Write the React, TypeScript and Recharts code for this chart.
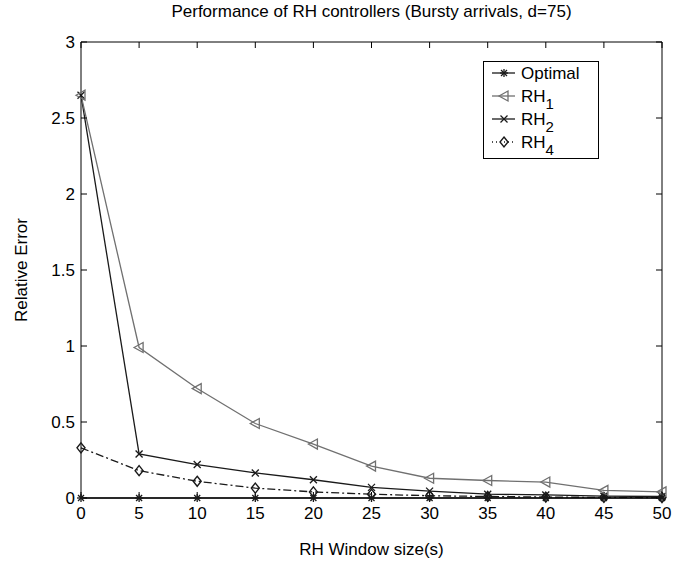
import React from "react";
import { LineChart, Line, XAxis, YAxis, Legend } from "recharts";

// RH window size (s)
const windowSizes = [0, 5, 10, 15, 20, 25, 30, 35, 40, 45, 50];

const optimal = [0, 0, 0, 0, 0, 0, 0, 0, 0, 0, 0];
const rh1 = [2.65, 0.99, 0.72, 0.49, 0.355, 0.21, 0.13, 0.115, 0.105, 0.05, 0.04];
const rh2 = [2.65, 0.29, 0.22, 0.165, 0.12, 0.07, 0.045, 0.025, 0.02, 0.012, 0.01];
const rh4 = [0.33, 0.18, 0.11, 0.065, 0.04, 0.025, 0.015, 0.01, 0.006, 0.004, 0.003];

const xTicks = [0, 5, 10, 15, 20, 25, 30, 35, 40, 45, 50];
const yTicks = [0, 0.5, 1, 1.5, 2, 2.5, 3];

const data = windowSizes.map((x, i) => ({
  x,
  optimal: optimal[i],
  rh1: rh1[i],
  rh2: rh2[i],
  rh4: rh4[i],
}));

const FONT = "'Liberation Sans', Arial, sans-serif";
const GRAY = "#707070";
const DARK = "#1a1a1a";

// marker shapes (MATLAB style, hollow)
const Star = ({ cx, cy, color = DARK }: any) => (
  <g stroke={color} strokeWidth={1.3}>
    <line x1={cx - 4} y1={cy} x2={cx + 4} y2={cy} />
    <line x1={cx} y1={cy - 4} x2={cx} y2={cy + 4} />
    <line x1={cx - 3} y1={cy - 3} x2={cx + 3} y2={cy + 3} />
    <line x1={cx - 3} y1={cy + 3} x2={cx + 3} y2={cy - 3} />
  </g>
);
const TriLeft = ({ cx, cy, color = GRAY }: any) => (
  <polygon
    points={`${cx - 5},${cy} ${cx + 4},${cy - 5} ${cx + 4},${cy + 5}`}
    fill="none"
    stroke={color}
    strokeWidth={1.3}
  />
);
const Cross = ({ cx, cy, color = DARK }: any) => (
  <g stroke={color} strokeWidth={1.3}>
    <line x1={cx - 3.5} y1={cy - 3.5} x2={cx + 3.5} y2={cy + 3.5} />
    <line x1={cx - 3.5} y1={cy + 3.5} x2={cx + 3.5} y2={cy - 3.5} />
  </g>
);
const Diamond = ({ cx, cy, color = DARK }: any) => (
  <polygon
    points={`${cx},${cy - 5} ${cx + 4},${cy} ${cx},${cy + 5} ${cx - 4},${cy}`}
    fill="none"
    stroke={color}
    strokeWidth={1.4}
  />
);

const legendItems = [
  { name: "Optimal", sub: "", color: DARK, dash: undefined, Marker: Star },
  { name: "RH", sub: "1", color: GRAY, dash: undefined, Marker: TriLeft },
  { name: "RH", sub: "2", color: DARK, dash: undefined, Marker: Cross },
  { name: "RH", sub: "4", color: DARK, dash: "1 3", Marker: Diamond },
];

const renderLegend = () => (
  <svg width={116} height={98} style={{ display: "block" }}>
    <rect x={0.5} y={0.5} width={115} height={97} fill="#fff" stroke="#000" />
    {legendItems.map((it, i) => {
      const y = 12 + i * 23;
      return (
        <g key={i}>
          <line x1={9} y1={y} x2={32} y2={y} stroke={it.color} strokeWidth={1.3} strokeDasharray={it.dash} />
          <it.Marker cx={21} cy={y} color={it.color} />
          <text x={38} y={y + 6} fontSize={17} fontFamily={FONT} fill="#000">
            {it.name}
            {it.sub && (
              <tspan fontSize={15} dy={7}>
                {it.sub}
              </tspan>
            )}
          </text>
        </g>
      );
    })}
  </svg>
);

const tickStyle = { fill: "#000", fontSize: 17, fontFamily: FONT };

export default function App() {
  return (
    <div style={{ position: "absolute", left: 0, top: 0, width: 685, height: 563, background: "#fff", fontFamily: FONT }}>
      <div style={{ position: "absolute", left: 0, width: 743, top: 2, textAlign: "center", fontSize: 17 }}>
        Performance of RH controllers (Bursty arrivals, d=75)
      </div>
      <div style={{ position: "absolute", left: 0, width: 743, top: 540, textAlign: "center", fontSize: 17 }}>
        RH Window size(s)
      </div>
      <div
        style={{
          position: "absolute",
          left: 22,
          top: 270,
          transform: "translate(-50%, -50%) rotate(-90deg)",
          whiteSpace: "nowrap",
          fontSize: 17,
        }}
      >
        Relative Error
      </div>
      <LineChart width={685} height={563} data={data} margin={{ top: 41, right: 22, left: 21, bottom: 25 }}>
        <XAxis
          dataKey="x"
          type="number"
          domain={[0, 50]}
          ticks={xTicks}
          height={40}
          tickSize={-6}
          tickMargin={15}
          tick={tickStyle}
          axisLine={{ stroke: "#000" }}
          tickLine={{ stroke: "#000" }}
        />
        <XAxis
          xAxisId="top"
          dataKey="x"
          orientation="top"
          type="number"
          domain={[0, 50]}
          ticks={xTicks}
          height={1}
          tickSize={-6}
          tickFormatter={() => ""}
          axisLine={{ stroke: "#000" }}
          tickLine={{ stroke: "#000" }}
        />
        <YAxis
          type="number"
          domain={[0, 3]}
          ticks={yTicks}
          width={60}
          tickSize={-6}
          tickMargin={12}
          tick={tickStyle}
          axisLine={{ stroke: "#000" }}
          tickLine={{ stroke: "#000" }}
        />
        <YAxis
          yAxisId="right"
          orientation="right"
          type="number"
          domain={[0, 3]}
          ticks={yTicks}
          width={1}
          tickSize={-6}
          tickFormatter={() => ""}
          axisLine={{ stroke: "#000" }}
          tickLine={{ stroke: "#000" }}
        />
        <Legend
          layout="horizontal"
          verticalAlign="middle"
          align="center"
          content={renderLegend}
          wrapperStyle={{ position: "absolute", left: 483, top: 61, width: 116, height: 98 }}
        />
        {/* invisible series so the top/right frame axes get drawn */}
        <Line
          xAxisId="top"
          yAxisId="right"
          dataKey="optimal"
          stroke="none"
          dot={false}
          activeDot={false}
          legendType="none"
          isAnimationActive={false}
        />
        <Line
          dataKey="rh4"
          name="RH4"
          stroke={DARK}
          strokeWidth={1.3}
          strokeDasharray="8 3 2 3"
          dot={(p: any) => <Diamond key={p.index} cx={p.cx} cy={p.cy} />}
          isAnimationActive={false}
        />
        <Line
          dataKey="rh2"
          name="RH2"
          stroke={DARK}
          strokeWidth={1.3}
          dot={(p: any) => <Cross key={p.index} cx={p.cx} cy={p.cy} />}
          isAnimationActive={false}
        />
        <Line
          dataKey="rh1"
          name="RH1"
          stroke={GRAY}
          strokeWidth={1.3}
          dot={(p: any) => <TriLeft key={p.index} cx={p.cx} cy={p.cy} />}
          isAnimationActive={false}
        />
        <Line
          dataKey="optimal"
          name="Optimal"
          stroke={DARK}
          strokeWidth={1.3}
          dot={(p: any) => <Star key={p.index} cx={p.cx} cy={p.cy} />}
          isAnimationActive={false}
        />
      </LineChart>
    </div>
  );
}
